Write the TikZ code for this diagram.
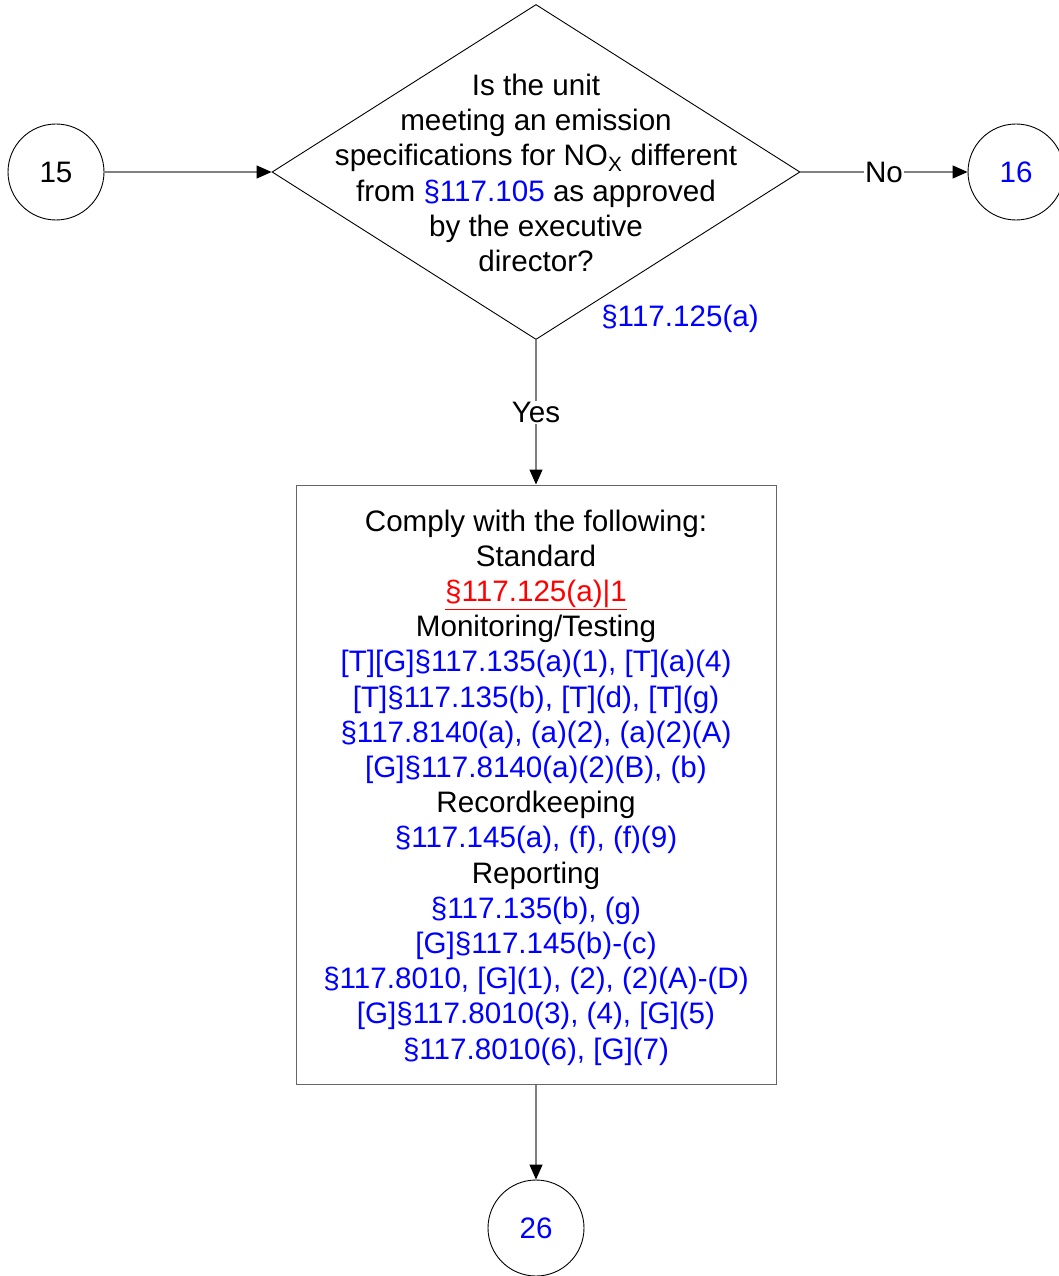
\documentclass[tikz,border=0pt]{standalone}
\usepackage{fontspec}
\setmainfont{Liberation Sans}
\usetikzlibrary{arrows.meta,shapes.geometric}
\tikzset{>={Triangle[length=15pt,width=13pt,color=black]}}
\tikzset{conn/.style={draw=gray,line width=1.3pt,->}}
\tikzset{onpage/.style={circle,draw,line width=0.9pt,minimum size=96pt,inner sep=0pt}}
\tikzset{decision/.style={diamond,draw,line width=0.9pt,minimum width=528pt,minimum height=335pt,inner sep=0pt}}
\tikzset{process/.style={rectangle,draw=gray!80!black,line width=1pt,minimum width=480pt,minimum height=599pt,inner sep=0pt}}
\tikzset{edgelabel/.style={fill=white,inner sep=1pt}}
\newcommand{\refb}[1]{\textcolor{blue}{#1}}

\begin{document}
\begin{tikzpicture}[x=1pt,y=-1pt,font=\fontsize{29.6}{35.2}\selectfont]
  \useasboundingbox (0,0) rectangle (1058,1276);
  % Shapes
  \node[onpage] (c15) at (56,172) {15};
  \node[decision] (q) at (536,172) {};
  \node[onpage,text=blue] (c16) at (1016,172) {16};
  \node[process] (box) at (536,784.5) {};
  \node[onpage,text=blue] (c26) at (536,1228) {26};
  % Texts
  \node[align=center] (qtext) at ([shift={(0,1)}]q.center) {Is the unit\\meeting an emission\\specifications for NO\textsubscript{X} different\\from \refb{\S117.105} as approved\\by the executive\\director?};
  \node[text=blue] (qref) at (680,319) {\S117.125(a)};
  \node[align=center] (boxtext) at ([shift={(0,3)}]box.center) {Comply with the following:\\
    Standard\\
    \textcolor{red}{\underline{\S117.125(a)|1}}\\
    Monitoring/Testing\\
    \refb{[T][G]\S117.135(a)(1), [T](a)(4)}\\
    \refb{[T]\S117.135(b), [T](d), [T](g)}\\
    \refb{\S117.8140(a), (a)(2), (a)(2)(A)}\\
    \refb{[G]\S117.8140(a)(2)(B), (b)}\\
    Recordkeeping\\
    \refb{\S117.145(a), (f), (f)(9)}\\
    Reporting\\
    \refb{\S117.135(b), (g)}\\
    \refb{[G]\S117.145(b)-(c)}\\
    \refb{\S117.8010, [G](1), (2), (2)(A)-(D)}\\
    \refb{[G]\S117.8010(3), (4), [G](5)}\\
    \refb{\S117.8010(6), [G](7)}};
  % Lines
  \draw[conn] (c15) -- (q.west);
  \draw[conn] (q.east) -- node[edgelabel] (no) {No} (c16);
  \draw[conn] (q.south) -- node[edgelabel] (yes) {Yes} (box.north);
  \draw[conn] (box.south) -- (c26);
\end{tikzpicture}
\end{document}
